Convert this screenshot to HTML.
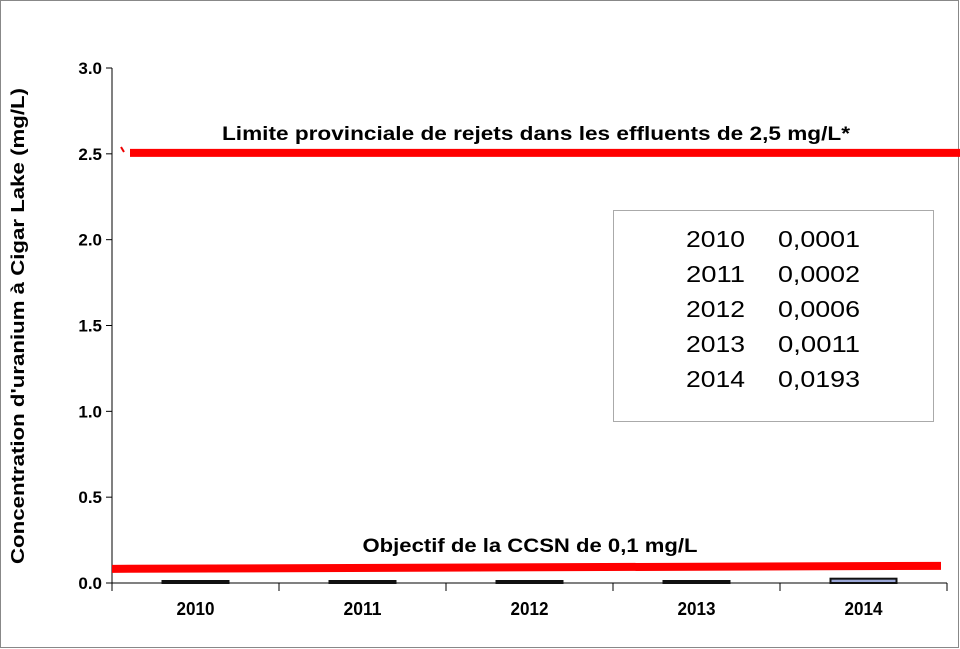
<!DOCTYPE html>
<html><head><meta charset="utf-8"><style>
body{margin:0;background:#fff;}
svg{display:block;font-family:"Liberation Sans",Arial,sans-serif;}
</style></head><body>
<svg width="960" height="649" viewBox="0 0 960 649">
<rect x="0.5" y="0.5" width="958" height="647" fill="#fff" stroke="#888"/>
<g id="plot"></g>
<text transform="translate(24,326) rotate(-90)" text-anchor="middle" font-size="18" font-weight="bold" textLength="476" lengthAdjust="spacingAndGlyphs">Concentration d'uranium à Cigar Lake  (mg/L)</text>
<text x="536" y="140" text-anchor="middle" font-size="19" font-weight="bold" textLength="628" lengthAdjust="spacingAndGlyphs">Limite provinciale de rejets dans les effluents de 2,5 mg/L*</text>
<text x="530" y="552" text-anchor="middle" font-size="19" font-weight="bold" textLength="335" lengthAdjust="spacingAndGlyphs">Objectif de la CCSN de 0,1 mg/L</text>
<rect x="613.5" y="210.5" width="320" height="211" fill="#fff" stroke="#aaa"/>
<g id="table" font-size="23" font-family="'Liberation Sans',sans-serif"></g>
</svg>
<script>
const categories=["2010","2011","2012","2013","2014"];
const values=[0.0001,0.0002,0.0006,0.0011,0.0193];
const valueLabels=["0,0001","0,0002","0,0006","0,0011","0,0193"];
const yTicks=[0,0.5,1,1.5,2,2.5,3];
const yTickLabels=["0.0","0.5","1.0","1.5","2.0","2.5","3.0"];
const provincialLimit=2.5;
const ccsnObjective=0.1;
const NS="http://www.w3.org/2000/svg";
const x0=112,x1=947,yTop=68,yBot=583,yMax=3;
const y=v=>yBot-(v/yMax)*(yBot-yTop);
const bw=(x1-x0)/categories.length;
const g=document.getElementById('plot');
function mk(t,a,p){const e=document.createElementNS(NS,t);for(const k in a)e.setAttribute(k,a[k]);(p||g).appendChild(e);return e;}
let ax=mk('line',{x1:x0,y1:yTop,x2:x0,y2:yBot,stroke:'#000'});


let bx=mk('line',{x1:x0,y1:yBot,x2:x1,y2:yBot,stroke:'#000'});


yTicks.forEach((v,i)=>{
 mk('line',{x1:x0-6,y1:y(v),x2:x0,y2:y(v),stroke:'#000'});
 const t=mk('text',{x:x0-10,y:y(v)+6,'text-anchor':'end','font-size':17,'font-weight':'bold'});
 t.textContent=yTickLabels[i];
 
 
});
for(let i=0;i<=categories.length;i++){mk('line',{x1:x0+i*bw,y1:yBot,x2:x0+i*bw,y2:yBot+8,stroke:'#000'});}
categories.forEach((c,i)=>{
 const cx=x0+(i+0.5)*bw;
 const t=mk('text',{x:cx,y:yBot+32,'text-anchor':'middle','font-size':18,'font-weight':'bold',textLength:38,lengthAdjust:'spacingAndGlyphs'});
 t.textContent=c;
 
 
 const h=Math.max(yBot-y(values[i]),1);
 const r=mk('rect',{x:cx-33,y:yBot-h-1,width:66,height:h+1,fill:'#9ca8d8',stroke:'#111','stroke-width':2});
 
 
});
let l1=mk('line',{x1:130,y1:y(provincialLimit)-1,x2:960,y2:y(provincialLimit)-1,stroke:'#f00','stroke-width':8});


mk('line',{x1:121,y1:147,x2:124,y2:152,stroke:'#e00','stroke-width':2});
let l2=mk('line',{x1:112,y1:y(ccsnObjective)+3,x2:941,y2:y(ccsnObjective)+0,stroke:'#f00','stroke-width':8});


const tg=document.getElementById('table');
categories.forEach((c,i)=>{
 const ty=247+i*35;
 const a=mk('text',{x:686,y:ty,textLength:59,lengthAdjust:'spacingAndGlyphs'},tg);a.textContent=c;
 
 
 const b=mk('text',{x:778,y:ty,textLength:82,lengthAdjust:'spacingAndGlyphs'},tg);b.textContent=valueLabels[i];
 
 
});
</script>
</body></html>
